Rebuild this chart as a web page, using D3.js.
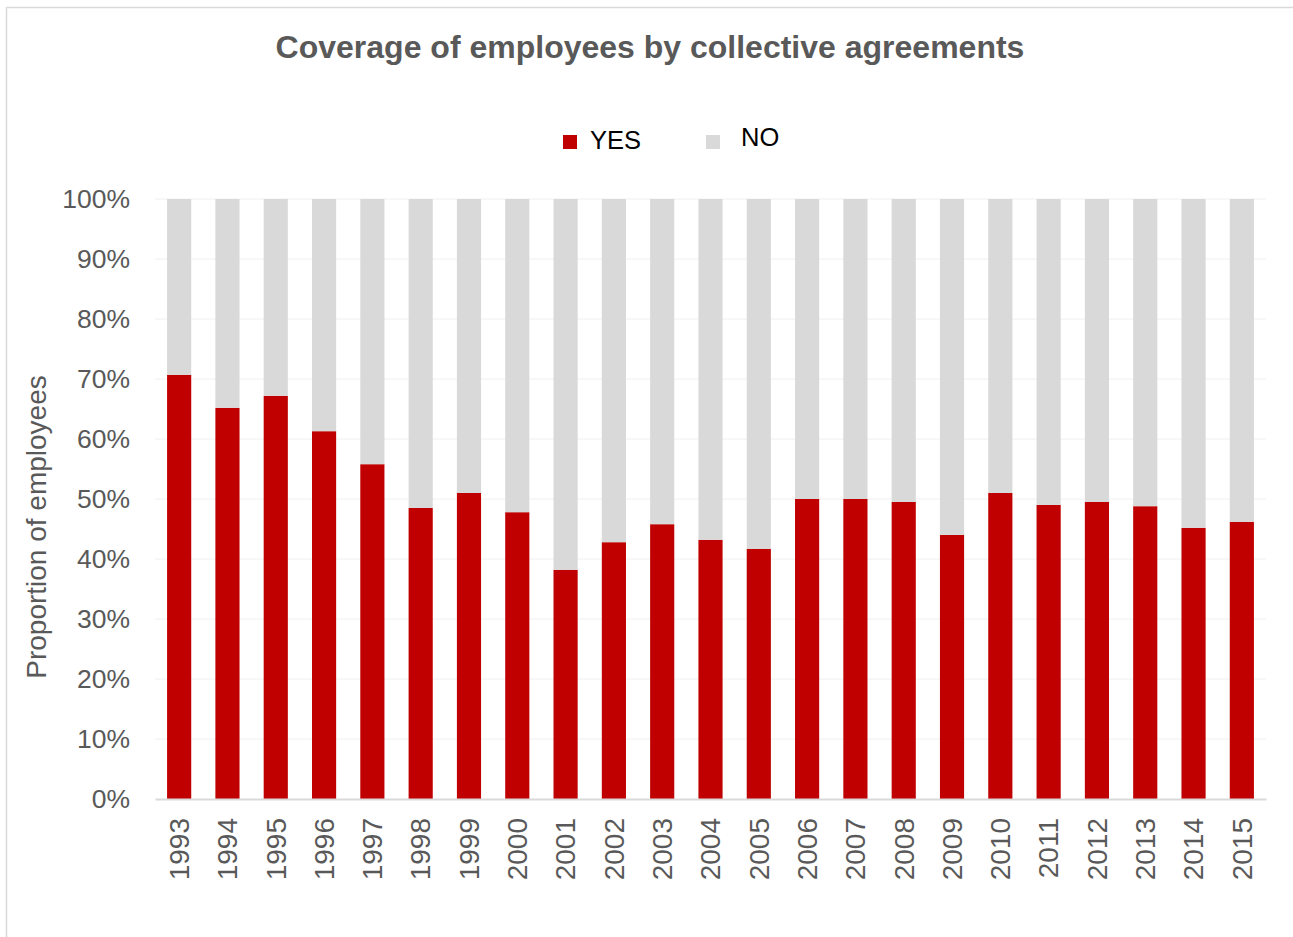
<!DOCTYPE html>
<html>
<head>
<meta charset="utf-8">
<script src="https://cdn.jsdelivr.net/npm/d3@7"></script>
<style>
  html, body { margin: 0; padding: 0; background: #fff; }
  svg { display: block; font-family: "Liberation Sans", Arial, sans-serif; }
</style>
</head>
<body>
<svg id="chart" width="1293" height="937"></svg>
<script>
// Share of employees covered by collective agreements, per year (percent)
const years = ["1993","1994","1995","1996","1997","1998","1999","2000","2001","2002","2003","2004",
               "2005","2006","2007","2008","2009","2010","2011","2012","2013","2014","2015"];
const yesShare = [70.7, 65.2, 67.2, 61.3, 55.8, 48.5, 51.0, 47.8, 38.2, 42.8, 45.8, 43.2,
                  41.7, 50.0, 50.0, 49.5, 44.0, 51.0, 49.0, 49.5, 48.8, 45.2, 46.2];
const seriesNames = ["YES", "NO"];
const seriesColors = ["#c00000", "#d9d9d9"];
const yTicks = [0, 10, 20, 30, 40, 50, 60, 70, 80, 90, 100];

const rows = years.map((y, i) => ({ year: y, YES: yesShare[i], NO: 100 - yesShare[i] }));
const stacked = d3.stack().keys(seriesNames)(rows);

const svg = d3.select("#chart");
const margin = { left: 155, right: 1266, top: 199, bottom: 799 };

// outer chart frame
svg.append("rect")
  .attr("x", 6.5).attr("y", 7.5)
  .attr("width", 1400).attr("height", 1100)
  .attr("fill", "none").attr("stroke", "#d9d9d9").attr("stroke-width", 1.5);

const x = d3.scaleBand().domain(years).range([margin.left, margin.right]).paddingInner(0.5).paddingOuter(0.25);
const y = d3.scaleLinear().domain([0, 100]).range([margin.bottom, margin.top]);

// gridlines
svg.append("g").selectAll("line").data(yTicks.filter(t => t > 0)).join("line")
  .attr("x1", margin.left).attr("x2", margin.right)
  .attr("y1", d => y(d)).attr("y2", d => y(d))
  .attr("stroke", "#f0f0f0").attr("stroke-width", 1);

// stacked bars
svg.append("g").selectAll("g").data(stacked).join("g")
  .attr("fill", (d, i) => seriesColors[i])
  .selectAll("rect").data(d => d).join("rect")
  .attr("x", d => x(d.data.year))
  .attr("width", x.bandwidth())
  .attr("y", d => y(d[1]))
  .attr("height", d => y(d[0]) - y(d[1]));

// y axis
const yAxis = svg.append("g")
  .attr("transform", `translate(${margin.left},0)`)
  .call(d3.axisLeft(y).tickValues(yTicks).tickFormat(d => d + "%").tickSize(0).tickPadding(25));
yAxis.select(".domain").remove();
yAxis.selectAll("text").attr("font-size", 26.5).attr("fill", "#595959")
  .attr("font-family", "Liberation Sans, Arial, sans-serif");

// x axis
const xAxis = svg.append("g")
  .attr("transform", `translate(0,${margin.bottom})`)
  .call(d3.axisBottom(x).tickSize(0));
xAxis.select(".domain").attr("stroke", "#d9d9d9").attr("stroke-width", 2);
xAxis.selectAll("text")
  .attr("font-size", 28).attr("fill", "#595959")
  .attr("font-family", "Liberation Sans, Arial, sans-serif")
  .attr("transform", "rotate(-90)")
  .attr("text-anchor", "end")
  .attr("x", -19).attr("y", 0).attr("dy", "0.35em");

// y axis title
svg.append("text")
  .attr("transform", "translate(46,527) rotate(-90)")
  .attr("text-anchor", "middle")
  .attr("font-size", 28).attr("fill", "#595959")
  .text("Proportion of employees");

// chart title
svg.append("text")
  .attr("x", 650).attr("y", 58)
  .attr("text-anchor", "middle")
  .attr("font-size", 32).attr("font-weight", "bold").attr("fill", "#595959")
  .text("Coverage of employees by collective agreements");

// legend
const legendItems = [
  { name: seriesNames[0], color: seriesColors[0], sx: 563, tx: 590, ty: 149 },
  { name: seriesNames[1], color: seriesColors[1], sx: 706, tx: 741, ty: 146 }
];
const lg = svg.append("g");
lg.selectAll("rect").data(legendItems).join("rect")
  .attr("x", d => d.sx).attr("y", 135).attr("width", 14).attr("height", 14)
  .attr("fill", d => d.color);
lg.selectAll("text").data(legendItems).join("text")
  .attr("x", d => d.tx).attr("y", d => d.ty)
  .attr("font-size", 25.5).attr("fill", "#000")
  .text(d => d.name);
</script>
</body>
</html>
